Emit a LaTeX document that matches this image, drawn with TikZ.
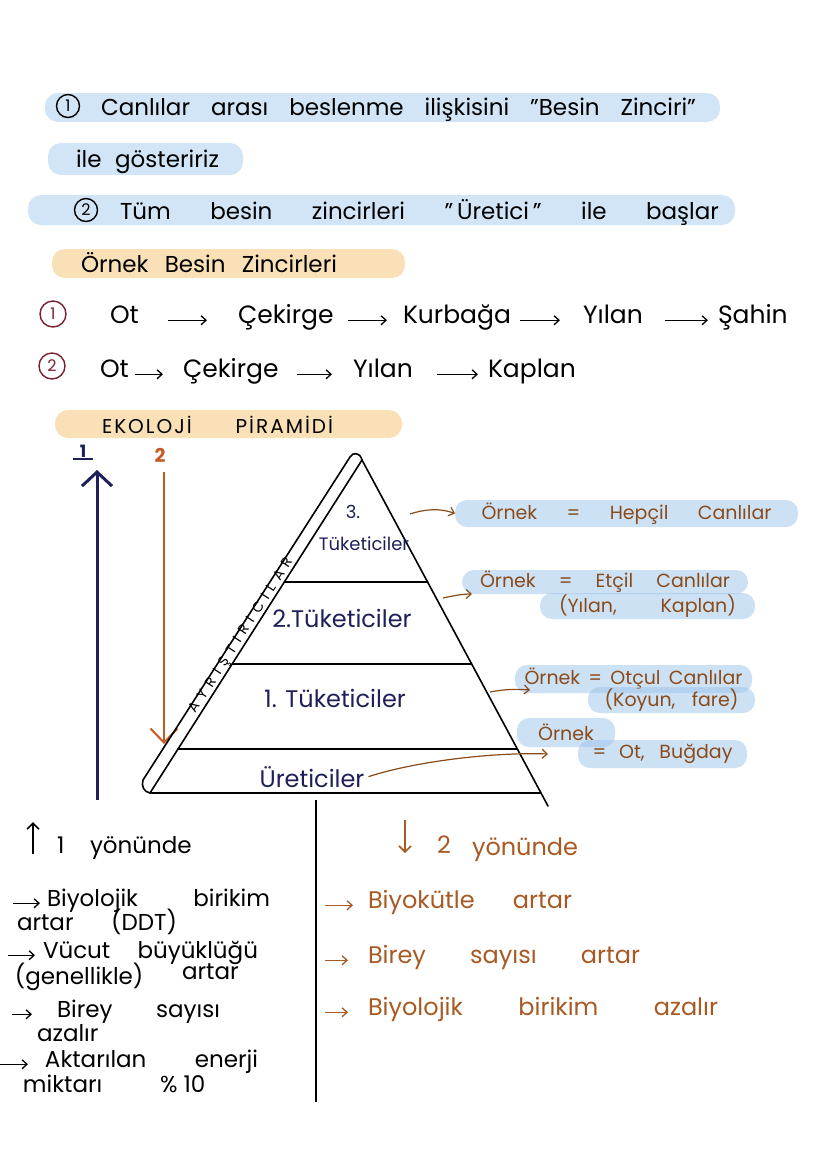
\documentclass[tikz,border=0pt]{standalone}
\usepackage{fontspec}
\setmainfont{Poppins}
\usetikzlibrary{arrows.meta,calc}
\definecolor{bandblue}{HTML}{D2E5F7}
\definecolor{bandpeach}{HTML}{F9E0B6}
\definecolor{annblue}{HTML}{9CC4EC}
\definecolor{navy}{HTML}{1E2159}
\definecolor{orng}{HTML}{C65A22}
\definecolor{brwn}{HTML}{8A4B1A}
\definecolor{orb}{HTML}{A85A24}
\definecolor{maroon}{HTML}{7A1F2E}
\begin{document}
\begin{tikzpicture}[x=1pt,y=-1pt,
  every node/.style={inner sep=0pt, outer sep=0pt},
  bandB/.style={fill=bandblue, rounded corners=13pt},
  bandP/.style={fill=bandpeach, rounded corners=13pt},
  annnode/.style={fill=annblue, fill opacity=0.5, text opacity=1, rounded corners=12pt, text=brwn, font=\fontsize{19}{22}\selectfont},
  tTop/.style={anchor=base west, font=\fontsize{23}{27}\selectfont},
  tChain/.style={anchor=base west, font=\fontsize{25}{29}\selectfont},
  tBot/.style={anchor=base west, font=\fontsize{23}{27}\selectfont},
  tBotR/.style={anchor=base west, font=\fontsize{24}{28}\selectfont, text=orb},
  tPyr/.style={anchor=base, font=\fontsize{24}{28}\selectfont, text=navy},
  tPyrS/.style={anchor=base, font=\fontsize{18}{21}\selectfont, text=navy},
  numcirc/.style={circle, draw, line width=1.4pt, minimum size=23pt, font=\fontsize{16}{18}\selectfont},
  chainarrow/.style={line width=1.3pt, -{Straight Barb[length=5pt,width=9pt]}},
  bulletarrow/.style={line width=1.3pt, -{Straight Barb[length=5pt,width=9pt]}},
  annarrow/.style={brwn, line width=1.2pt, -{Straight Barb[length=5pt,width=9pt]}},
  pyr/.style={line width=1.6pt, line join=round, line cap=round},
]
\useasboundingbox (0,0) rectangle (828,1171);
\fill[white] (0,0) rectangle (828,1171);

% ---- top lines
\fill[bandB] (45,93) rectangle (720,122);
\node[numcirc] (n1) at (68,106) {1};
\node[tTop] (l1) at (101,115) {\makebox[595pt][s]{Canlılar arası beslenme ilişkisini "Besin Zinciri"}};
\fill[bandB] (48,143) rectangle (243,175);
\node[tTop] (l2) at (76,167) {\makebox[143pt][s]{ile gösteririz}};
\fill[bandB] (28,195) rectangle (735,225);
\node[numcirc] (n2) at (86,210) {2};
\node[tTop] (l3) at (120,219) {\makebox[599pt][s]{Tüm besin zincirleri "\,Üretici\," ile başlar}};
\fill[bandP] (52,249) rectangle (405,278);
\node[tTop] (l4) at (81,272) {\makebox[256pt][s]{Örnek Besin Zincirleri}};

% ---- chains
\node[numcirc, maroon, minimum size=26pt] (c1n) at (53,314) {1};
\node[tChain] (a1) at (110,323) {\makebox[35pt][l]{Ot}};
\node[tChain] (a2) at (238,323) {\makebox[95pt][l]{Çekirge}};
\node[tChain] (a3) at (403,323) {\makebox[100pt][l]{Kurbağa}};
\node[tChain] (a4) at (583,323) {\makebox[67pt][l]{Yılan}};
\node[tChain] (a5) at (718,323) {\makebox[80pt][l]{Şahin}};
\draw[chainarrow, shorten <=23pt, shorten >=31pt] (a1.mid east) -- (a2.mid west);
\draw[chainarrow, shorten <=15pt, shorten >=16pt] (a2.mid east) -- (a3.mid west);
\draw[chainarrow, shorten <=17pt, shorten >=23pt] (a3.mid east) -- (a4.mid west);
\draw[chainarrow, shorten <=15pt, shorten >=10pt] (a4.mid east) -- (a5.mid west);

\node[numcirc, maroon, minimum size=26pt] (c2n) at (52,366) {2};
\node[tChain] (b1) at (100,377) {\makebox[30pt][l]{Ot}};
\node[tChain] (b2) at (183,377) {\makebox[94pt][l]{Çekirge}};
\node[tChain] (b3) at (353,377) {\makebox[54pt][l]{Yılan}};
\node[tChain] (b4) at (488,377) {\makebox[90pt][l]{Kaplan}};
\draw[chainarrow, shorten <=5pt, shorten >=20pt] (b1.mid east) -- (b2.mid west);
\draw[chainarrow, shorten <=20pt, shorten >=21pt] (b2.mid east) -- (b3.mid west);
\draw[chainarrow, shorten <=30pt, shorten >=10pt] (b3.mid east) -- (b4.mid west);

% ---- ekoloji piramidi title
\fill[bandP] (55,410) rectangle (402,438);
\node[anchor=base west, font=\fontsize{20}{23}\selectfont\addfontfeature{LetterSpace=10}] (eko) at (102,433) {\makebox[231pt][s]{EKOLOJİ PİRAMİDİ}};

% ---- direction arrows
\node[font=\fontsize{17}{19}\selectfont\bfseries, text=navy] (one) at (83,451) {1};
\draw[navy, line width=1.8pt] ([xshift=-10pt,yshift=-2pt]one.south) -- ([xshift=10pt,yshift=-2pt]one.south);
\coordinate (u1s) at (97,800);
\coordinate (u1e) at (97,470);
\draw[navy, line width=3pt, -{Straight Barb[length=14pt,width=30pt]}] (u1s) -- (u1e);
\node[font=\fontsize{19}{21}\selectfont\bfseries, text=orng] (two) at (160,455) {2};
\coordinate (d2s) at (164,472);
\coordinate (d2e) at (164,744);
\draw[orng, line width=2pt, -{Straight Barb[length=14pt,width=27pt]}] (d2s) -- (d2e);

% ---- pyramid
\coordinate (apex) at (362,460);
\coordinate (bl) at (150,793);
\coordinate (br) at (548,806);
\draw[pyr] (br) -- (apex) -- (bl) -- ($(apex)!0.96243!(br)$);
\draw[pyr] (apex) .. controls (360,452) and (353,452) .. (350,457) -- (143,780) .. controls (141,786) and (144,792) .. (bl);
\draw[pyr] ($(apex)!0.36637!(bl)$) -- ($(apex)!0.35260!(br)$);
\draw[pyr] ($(apex)!0.61261!(bl)$) -- ($(apex)!0.58960!(br)$);
\draw[pyr] ($(apex)!0.86787!(bl)$) -- ($(apex)!0.83526!(br)$);

\node[tPyrS] (p3a) at (353,518) {3.};
\node[tPyrS] (p3b) at (364,550) {Tüketiciler};
\node[tPyr] (p2) at (342,627) {2.Tüketiciler};
\node[tPyr] (p1) at (335,707) {1. Tüketiciler};
\node[tPyr] (p0) at (312,787) {Üreticiler};
\node[font=\fontsize{14}{16}\selectfont\addfontfeature{LetterSpace=45}, rotate=57.3] (ayr) at (242,636) {AYRIŞTIRICILAR};

% ---- right annotations
\node[annnode, minimum width=343pt, minimum height=27pt] (hep) at (626.5,513.5) {\makebox[290pt][s]{Örnek = Hepçil Canlılar}};
\node[annnode, minimum width=286pt, minimum height=24pt] (etc1) at (605,582) {\makebox[250pt][s]{Örnek = Etçil Canlılar}};
\node[annnode, minimum width=215pt, minimum height=26pt] (etc2) at (647.5,606) {\makebox[177pt][s]{(Yılan, Kaplan)}};
\node[annnode, minimum width=237pt, minimum height=28pt] (ot1) at (633.5,679) {\makebox[218pt][s]{Örnek = Otçul Canlılar}};
\node[annnode, minimum width=167pt, minimum height=26pt] (ot2) at (671.5,700) {\makebox[134pt][s]{(Koyun, fare)}};
\node[annnode, minimum width=98pt, minimum height=29pt] (ur1) at (566,732.5) {Örnek};
\node[annnode, minimum width=169pt, minimum height=28pt] (ur2) at (662.5,754) {\makebox[140pt][s]{= Ot, Buğday}};

\coordinate (hepS) at (410,514);
\draw[annarrow] (hepS) .. controls (425,509) and (440,508) .. (hep.west);
\coordinate (etcS) at (443,598);
\draw[annarrow] (etcS) .. controls (452,596) and (462,594) .. ([xshift=10pt]etc1.south west);
\coordinate (otS) at (490,692);
\draw[annarrow] (otS) .. controls (505,689) and (518,689) .. ([xshift=15pt,yshift=3pt]ot1.south west);
\draw[annarrow] ([xshift=4pt]p0.east) .. controls (420,760) and (500,752) .. ([xshift=-30pt]ur2.west);

% ---- bottom divider
\coordinate (dvT) at (316,800);
\coordinate (dvB) at (316,1102);
\draw[line width=1.6pt] (dvT) -- (dvB);

% ---- bottom left
\node[tBot] (y1n) at (57,853) {1};
\node[tBot] (y1t) at (90,853) {yönünde};
\coordinate (ua1) at (33,854);
\coordinate (ua2) at (33,822);
\draw[line width=1.6pt, -{Straight Barb[length=6pt,width=12pt]}] (ua1) -- (ua2);

\node[tBot] (bl1) at (47,906) {\makebox[223pt][s]{Biyolojik birikim}};
\draw[bulletarrow] ([xshift=-34pt]bl1.mid west) -- ([xshift=-7pt]bl1.mid west);
\node[tBot] (bl1b) at (17,930) {\makebox[160pt][s]{artar (DDT)}};
\node[tBot] (bl2) at (43,958) {\makebox[215pt][s]{Vücut büyüklüğü}};
\draw[bulletarrow] ([xshift=-35pt]bl2.mid west) -- ([xshift=-8pt]bl2.mid west);
\node[tBot] (bl2b) at (15,984) {(genellikle)};
\node[tBot] (bl2c) at (182,979) {artar};
\node[tBot] (bl3) at (57,1017) {\makebox[163pt][s]{Birey sayısı}};
\draw[bulletarrow] ([xshift=-45pt]bl3.mid west) -- ([xshift=-25pt]bl3.mid west);
\node[tBot] (bl3b) at (37,1041) {azalır};
\node[tBot] (bl4) at (45,1067) {\makebox[213pt][s]{Aktarılan enerji}};
\draw[bulletarrow] ([xshift=-45pt]bl4.mid west) -- ([xshift=-17pt]bl4.mid west);
\node[tBot] (bl4b) at (23,1092) {miktarı};
\node[tBot] (bl4c) at (160,1092) {\% 10};

% ---- bottom right
\coordinate (da1) at (405,820);
\coordinate (da2) at (405,853);
\draw[orb, line width=1.6pt, -{Straight Barb[length=6pt,width=12pt]}] (da1) -- (da2);
\node[tBotR] (y2n) at (437,853) {2};
\node[tBotR] (y2t) at (472,855) {yönünde};
\node[tBotR] (br1) at (368,908) {\makebox[204pt][s]{Biyokütle artar}};
\draw[bulletarrow, orb] ([xshift=-43pt]br1.mid west) -- ([xshift=-15pt]br1.mid west);
\node[tBotR] (br2) at (368,963) {\makebox[272pt][s]{Birey sayısı artar}};
\draw[bulletarrow, orb] ([xshift=-43pt]br2.mid west) -- ([xshift=-20pt]br2.mid west);
\node[tBotR] (br3) at (368,1015) {\makebox[350pt][s]{Biyolojik birikim azalır}};
\draw[bulletarrow, orb] ([xshift=-43pt]br3.mid west) -- ([xshift=-20pt]br3.mid west);
\end{tikzpicture}
\end{document}
